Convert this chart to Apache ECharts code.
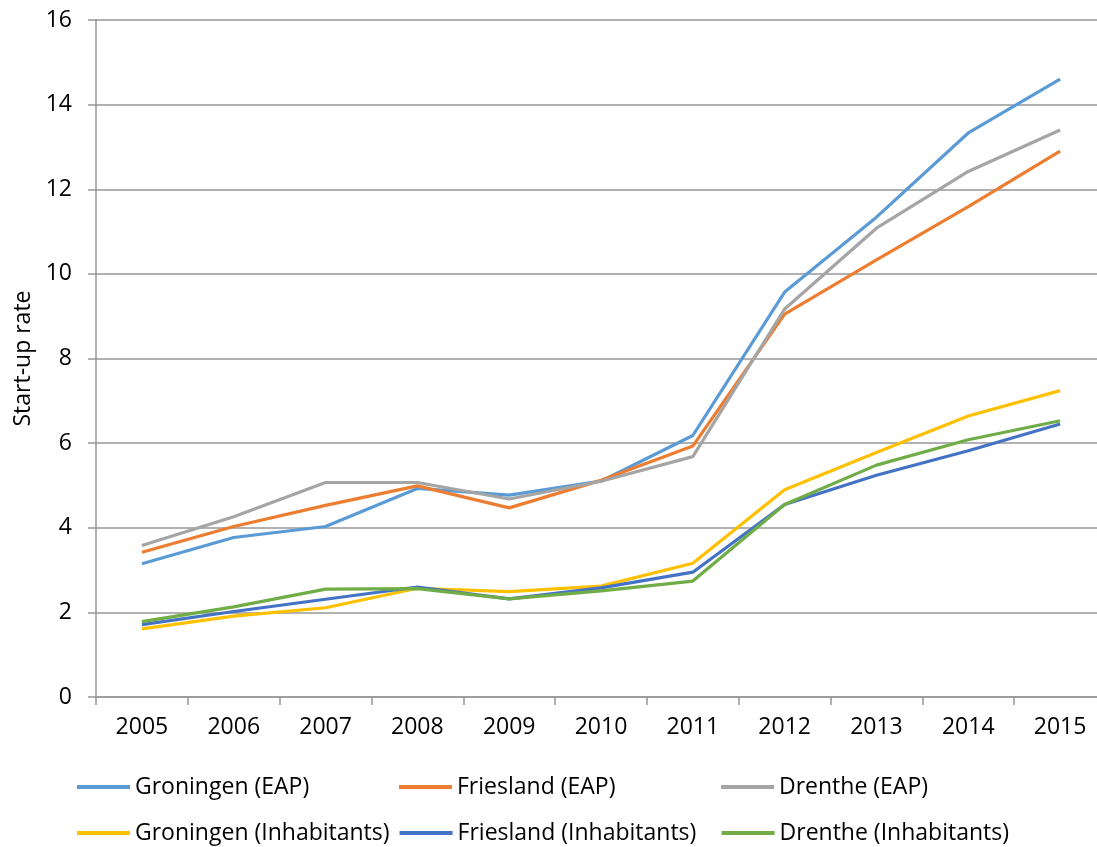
<!DOCTYPE html>
<html>
<head>
<meta charset="utf-8">
<script src="https://cdn.jsdelivr.net/npm/echarts@6/dist/echarts.min.js"></script>
<style>
html,body{margin:0;padding:0;background:#fff;}
#chart{width:1097px;height:847px;}
</style>
</head>
<body>
<div id="chart"></div>
<script>
var years = ['2005','2006','2007','2008','2009','2010','2011','2012','2013','2014','2015'];
var seriesNames = ['Groningen (EAP)','Friesland (EAP)','Drenthe (EAP)','Groningen (Inhabitants)','Friesland (Inhabitants)','Drenthe (Inhabitants)'];
var groningenEAP = [3.15, 3.77, 4.03, 4.93, 4.77, 5.10, 6.18, 9.57, 11.34, 13.33, 14.60];
var frieslandEAP = [3.42, 4.03, 4.53, 4.99, 4.47, 5.12, 5.93, 9.05, 10.33, 11.59, 12.90];
var drentheEAP = [3.58, 4.26, 5.07, 5.07, 4.68, 5.10, 5.68, 9.17, 11.08, 12.42, 13.40];
var groningenInh = [1.61, 1.91, 2.11, 2.57, 2.49, 2.62, 3.16, 4.90, 5.78, 6.64, 7.24];
var frieslandInh = [1.71, 2.02, 2.31, 2.60, 2.32, 2.58, 2.95, 4.55, 5.24, 5.82, 6.45];
var drentheInh = [1.78, 2.13, 2.55, 2.56, 2.32, 2.51, 2.74, 4.55, 5.48, 6.08, 6.53];
var colors = ['#5B9BD5','#ED7D31','#A5A5A5','#FFC000','#4472C4','#70AD47'];
var allData = [groningenEAP, frieslandEAP, drentheEAP, groningenInh, frieslandInh, drentheInh];

var font = '"Open Sans", sans-serif';
var gridColor = '#979797';

var chart = echarts.init(document.getElementById('chart'), null, {renderer:'canvas'});
var series = seriesNames.map(function(n, i){
  return {
    name: n, type: 'line', data: allData[i], symbol: 'none',
    lineStyle: {width: 3.2, color: colors[i]}, itemStyle: {color: colors[i]},
    animation: false
  };
});
chart.setOption({
  animation: false,
  grid: {left: 96, right: -9, top: 20, bottom: 150, outerBoundsMode: 'none', containLabel: false},
  xAxis: {
    type: 'category', data: years, boundaryGap: true,
    axisLine: {lineStyle: {color: gridColor, width: 1.5}},
    axisTick: {show: true, length: 8, inside: false, lineStyle: {color: gridColor, width: 1.5}},
    axisLabel: {color: '#000', fontFamily: font, fontSize: 23, margin: 19}
  },
  yAxis: {
    type: 'value', min: 0, max: 16, interval: 2,
    name: 'Start-up rate', nameLocation: 'middle', nameGap: 60,
    nameTextStyle: {color: '#000', fontFamily: font, fontSize: 23},
    axisLine: {show: true, lineStyle: {color: gridColor, width: 1.5}},
    axisTick: {show: true, length: 8, lineStyle: {color: gridColor, width: 1.5}},
    axisLabel: {color: '#000', fontFamily: font, fontSize: 23, margin: 24},
    splitLine: {show: true, lineStyle: {color: gridColor, width: 1.5}}
  },
  legend: {
    data: seriesNames, left: 77, top: 769, width: 990,
    orient: 'horizontal', padding: 0, itemGap: 10,
    icon: 'rect', itemWidth: 53, itemHeight: 4,
    textStyle: {color: '#000', fontFamily: font, fontSize: 23, width: 254, lineHeight: 36}
  },
  series: series
});
</script>
</body>
</html>
